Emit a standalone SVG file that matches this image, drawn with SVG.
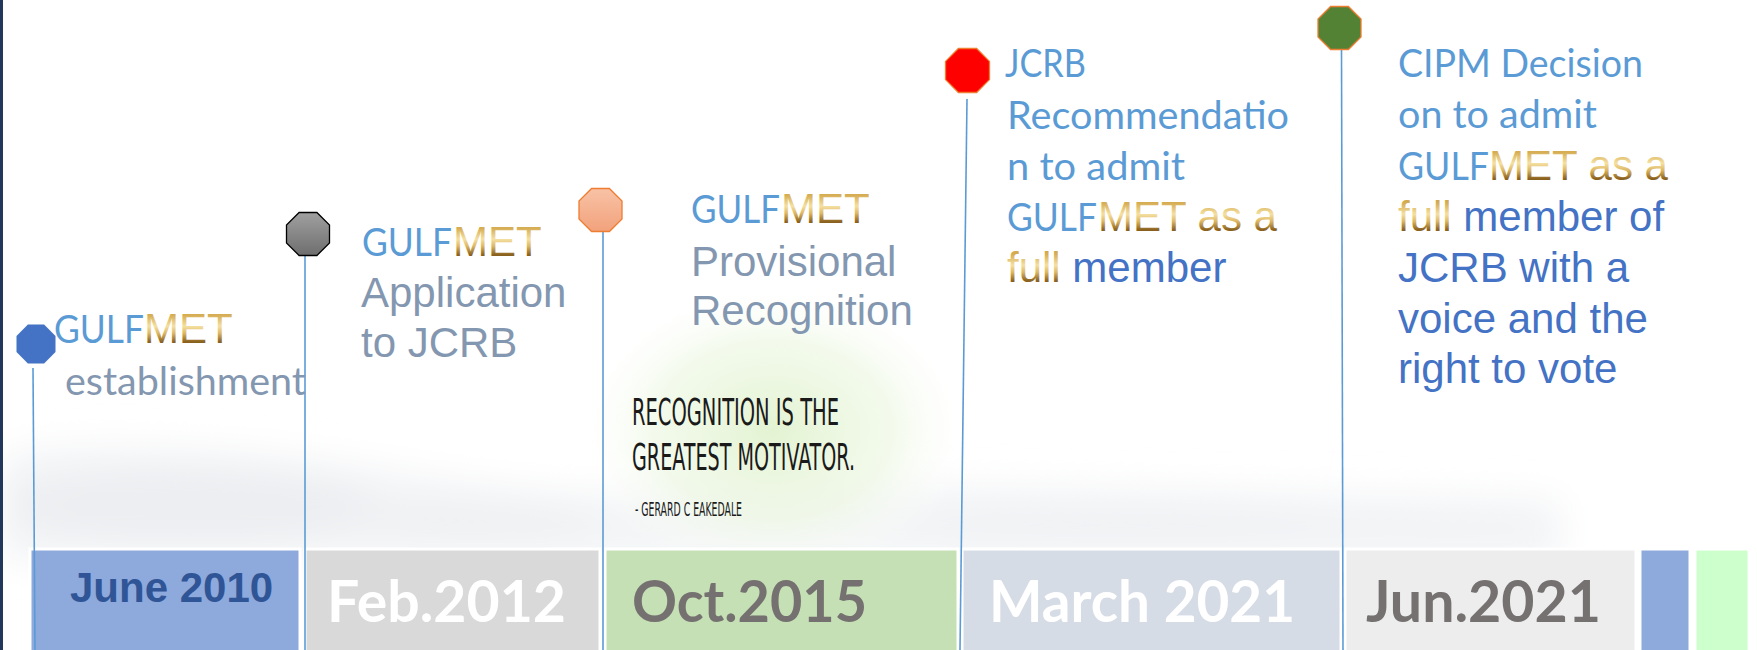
<svg xmlns="http://www.w3.org/2000/svg" width="1757" height="650" viewBox="0 0 1757 650">
<style>
.cal{font-family:Lato,"Open Sans","Noto Sans",sans-serif;font-size:38px}
.ari{font-family:"Liberation Sans",Arial,sans-serif;font-size:42px}
.lb{fill:#5B9BD5}
.gb{fill:#8497B0}
.db{fill:#4472C4}
.gold{fill:url(#gold)}
.date{font-family:Lato,"Open Sans",sans-serif;font-weight:bold;font-size:57px}
.conn line{stroke:#5B9BD5;stroke-width:1.6}
.box{stroke:#FFFFFF;stroke-width:3}
.quote{font-family:"DejaVu Sans Condensed","Liberation Sans Narrow","DejaVu Sans",sans-serif;fill:#1a1a1a}
</style>
<defs>
<linearGradient id="gold" x1="0" y1="0" x2="0" y2="1">
<stop offset="0" stop-color="#C99A3A"/>
<stop offset="0.22" stop-color="#D6AE55"/>
<stop offset="0.45" stop-color="#F5E0A2"/>
<stop offset="0.6" stop-color="#DDB865"/>
<stop offset="0.78" stop-color="#8C6320"/>
<stop offset="1" stop-color="#6A4A12"/>
</linearGradient>
<linearGradient id="grayOct" x1="0" y1="0" x2="0" y2="1">
<stop offset="0" stop-color="#A0A0A0"/>
<stop offset="1" stop-color="#6E6E6E"/>
</linearGradient>
<linearGradient id="salmonOct" x1="0" y1="0" x2="0" y2="1">
<stop offset="0" stop-color="#F8C2A6"/>
<stop offset="1" stop-color="#F2A27C"/>
</linearGradient>
<radialGradient id="glow" cx="0.5" cy="0.5" r="0.5">
<stop offset="0" stop-color="#E3F3D2" stop-opacity="1"/>
<stop offset="0.6" stop-color="#EEF8E4" stop-opacity="0.7"/>
<stop offset="1" stop-color="#FFFFFF" stop-opacity="0"/>
</radialGradient>
<filter id="blur" x="-10%" y="-50%" width="120%" height="200%">
<feGaussianBlur stdDeviation="18"/>
</filter>
</defs>

<g id="background">
<rect x="0" y="0" width="1757" height="650" fill="#FFFFFF"/>
<g filter="url(#blur)">
<path d="M0,455 C100,440 250,450 380,470 C480,485 560,500 640,492 C760,480 880,485 1000,488 C1200,492 1380,496 1560,500 L1560,560 L0,560 Z" fill="#F3F4F6"/>
<ellipse cx="190" cy="505" rx="190" ry="38" fill="#ECEEF1"/>
<ellipse cx="480" cy="520" rx="120" ry="25" fill="#EFF1F3"/>
<ellipse cx="1150" cy="525" rx="230" ry="26" fill="#F0F2F4"/>
<ellipse cx="1420" cy="528" rx="130" ry="20" fill="#F1F3F5"/>
</g>
<ellipse cx="773" cy="430" rx="200" ry="150" fill="url(#glow)"/>
<rect x="0" y="0" width="3" height="650" fill="#22385A"/>
</g>

<g id="timeline">
<g id="box-june2010"><rect class="box" x="30" y="549" width="270" height="103" fill="#8EA9DB"/><text x="70" y="602" font-family="Liberation Sans, Arial, sans-serif" font-weight="bold" font-size="42" fill="#2F5597">June 2010</text></g>
<g id="box-feb2012"><rect class="box" x="305" y="549" width="295" height="103" fill="#D9D9D9"/><text class="date" x="327" y="622" fill="#FFFFFF" textLength="239" lengthAdjust="spacingAndGlyphs">Feb.2012</text></g>
<g id="box-oct2015"><rect class="box" x="605" y="549" width="353" height="103" fill="#C5E0B4"/><text class="date" x="632" y="622" fill="#767171" textLength="235" lengthAdjust="spacingAndGlyphs">Oct.2015</text></g>
<g id="box-march2021"><rect class="box" x="962" y="549" width="379" height="103" fill="#D6DCE5"/><text class="date" x="989" y="622" fill="#FFFFFF" textLength="306" lengthAdjust="spacingAndGlyphs">March 2021</text></g>
<g id="box-jun2021"><rect class="box" x="1345" y="549" width="291" height="103" fill="#EDEDED"/><text class="date" x="1366" y="622" fill="#767171" textLength="235" lengthAdjust="spacingAndGlyphs">Jun.2021</text></g>
<g id="box-extra1"><rect class="box" x="1640" y="549" width="50" height="103" fill="#8EA9DB"/></g>
<g id="box-extra2"><rect class="box" x="1695" y="549" width="54" height="103" fill="#CCFFCC"/></g>
</g>

<g id="connectors" class="conn">
<line x1="33" y1="368" x2="35" y2="650"/>
<line x1="305" y1="256" x2="305" y2="650"/>
<line x1="603" y1="232" x2="603" y2="650"/>
<line x1="967" y1="99" x2="960" y2="650"/>
<line x1="1341.5" y1="50" x2="1343" y2="650"/>
</g>

<g id="node-establishment">
<polygon points="27.9,324.5 44.1,324.5 55.5,335.9 55.5,352.1 44.1,363.5 27.9,363.5 16.5,352.1 16.5,335.9" fill="#4472C4"/>
<text class="cal lb" x="54" y="343" textLength="90" lengthAdjust="spacingAndGlyphs">GULF</text>
<text class="ari gold" x="144" y="343">MET</text>
<text class="cal gb" x="65" y="395" textLength="241" lengthAdjust="spacingAndGlyphs">establishment</text>
</g>

<g id="node-application">
<polygon points="299.1,212.5 316.9,212.5 329.5,225.1 329.5,242.9 316.9,255.5 299.1,255.5 286.5,242.9 286.5,225.1" fill="url(#grayOct)" stroke="#000000" stroke-width="1.3"/>
<text class="cal lb" x="362" y="256" textLength="90" lengthAdjust="spacingAndGlyphs">GULF</text>
<text class="ari gold" x="453" y="256">MET</text>
<text class="ari gb" x="361" y="307">Application</text>
<text class="ari gb" x="361" y="357">to JCRB</text>
</g>

<g id="node-provisional">
<polygon points="591.6,188.5 609.4,188.5 622,201.1 622,218.9 609.4,231.5 591.6,231.5 579,218.9 579,201.1" fill="url(#salmonOct)" stroke="#ED7D31" stroke-width="1.3"/>
<text class="cal lb" x="691" y="223" textLength="89" lengthAdjust="spacingAndGlyphs">GULF</text>
<text class="ari gold" x="781" y="223">MET</text>
<text class="ari gb" x="691" y="276">Provisional</text>
<text class="ari gb" x="691" y="325">Recognition</text>
</g>

<g id="node-recommendation">
<polygon points="958.4,48.5 976.6,48.5 989.5,61.4 989.5,79.6 976.6,92.5 958.4,92.5 945.5,79.6 945.5,61.4" fill="#FF0000" stroke="#ED7D31" stroke-width="1.3"/>
<text class="cal lb" x="1005" y="77" textLength="81" lengthAdjust="spacingAndGlyphs">JCRB</text>
<text class="cal lb" x="1007" y="129" textLength="282" lengthAdjust="spacingAndGlyphs">Recommendatio</text>
<text class="cal lb" x="1007" y="180" textLength="178" lengthAdjust="spacingAndGlyphs">n to admit</text>
<text class="cal lb" x="1007" y="231" textLength="90" lengthAdjust="spacingAndGlyphs">GULF</text>
<text class="ari gold" x="1098" y="231">MET as a</text>
<text class="ari" x="1007" y="282"><tspan class="gold">full</tspan><tspan class="db"> member</tspan></text>
</g>

<g id="node-cipm">
<polygon points="1330.6,6.5 1348.4,6.5 1361,19.1 1361,36.9 1348.4,49.5 1330.6,49.5 1318,36.9 1318,19.1" fill="#548235" stroke="#ED7D31" stroke-width="1.3"/>
<text class="cal lb" x="1398" y="77" textLength="245" lengthAdjust="spacingAndGlyphs">CIPM Decision</text>
<text class="cal lb" x="1398" y="128" textLength="199" lengthAdjust="spacingAndGlyphs">on to admit</text>
<text class="cal lb" x="1398" y="180" textLength="91" lengthAdjust="spacingAndGlyphs">GULF</text>
<text class="ari gold" x="1489" y="180">MET as a</text>
<text class="ari" x="1398" y="231"><tspan class="gold">full</tspan><tspan class="db"> member of</tspan></text>
<text class="ari db" x="1398" y="282">JCRB with a</text>
<text class="ari db" x="1398" y="333">voice and the</text>
<text class="ari db" x="1398" y="383">right to vote</text>
</g>

<g id="quote">
<text class="quote" x="632" y="425" font-size="37" textLength="207" lengthAdjust="spacingAndGlyphs">RECOGNITION IS THE</text>
<text class="quote" x="632" y="470" font-size="37" textLength="223" lengthAdjust="spacingAndGlyphs">GREATEST MOTIVATOR.</text>
<text class="quote" x="635" y="516" font-size="20" textLength="107" lengthAdjust="spacingAndGlyphs" fill="#555555">- GERARD C EAKEDALE</text>
</g>
</svg>
